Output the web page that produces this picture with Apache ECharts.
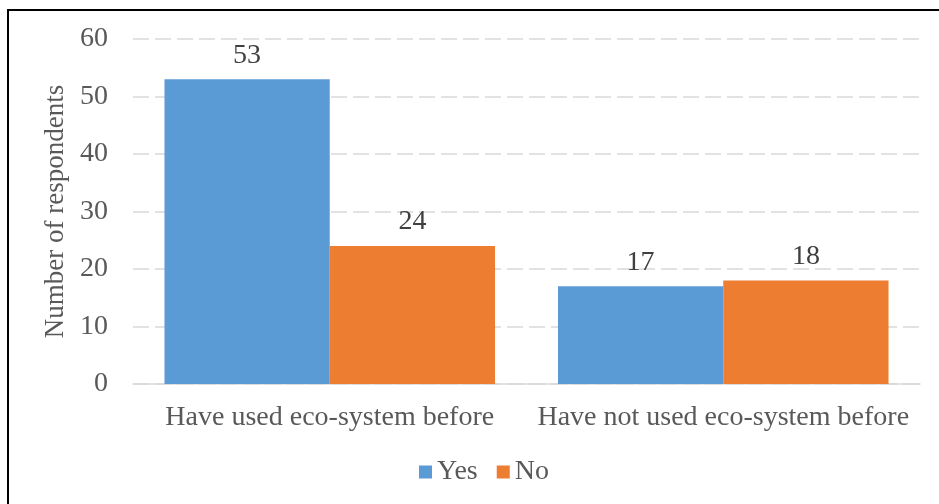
<!DOCTYPE html>
<html><head><meta charset="utf-8">
<script src="https://cdn.jsdelivr.net/npm/echarts@6/dist/echarts.min.js"></script>
<style>
html,body{margin:0;padding:0;background:#fff;overflow:hidden;}
#frame{position:absolute;left:7px;top:9px;width:960px;height:520px;border:2px solid #000;box-sizing:border-box;}
#c{position:absolute;left:0;top:0;width:939px;height:504px;}
</style></head>
<body><div id="frame"></div><div id="c"></div>
<script>
const categories = ["Have used eco-system before", "Have not used eco-system before"];
const yesValues = [53, 17];
const noValues = [24, 18];
const seriesNames = ["Yes", "No"];

const font = "'Liberation Serif', 'Times New Roman', serif";
const fs = 28;
const chart = echarts.init(document.getElementById('c'), null, {renderer:'canvas'});
const labelOpt = {show:true, position:'top', distance:10, fontFamily:font, fontSize:fs, color:'#404040'};
chart.setOption({
  animation:false,
  textStyle:{fontFamily:font},
  grid:{left:133, right:19, top:39, bottom:120},
  legend:{bottom:13, left:414, itemWidth:13, itemHeight:13, itemGap:19, icon:'rect',
    textStyle:{fontFamily:font, fontSize:fs, color:'#595959'}, data:seriesNames},
  xAxis:{type:'category', data:categories,
    axisLine:{lineStyle:{color:'#d9d9d9', width:1.5}}, axisTick:{show:false},
    axisLabel:{interval:0, fontFamily:font, fontSize:fs, color:'#595959', margin:20}},
  yAxis:{type:'value', min:0, max:60, interval:10,
    name:'Number of respondents', nameLocation:'middle', nameGap:58, nameRotate:90,
    nameTextStyle:{fontFamily:font, fontSize:fs-1, color:'#595959'},
    axisLine:{show:false}, axisTick:{show:false},
    axisLabel:{fontFamily:font, fontSize:fs, color:'#595959', margin:25},
    splitLine:{lineStyle:{color:'#d9d9d9', width:1.5, type:[16,6]}}},
  series:[
    {name:seriesNames[0], type:'bar', data:yesValues, barGap:'0%', barCategoryGap:'16%',
      itemStyle:{color:'#5B9BD5'}, label:labelOpt},
    {name:seriesNames[1], type:'bar', data:noValues,
      itemStyle:{color:'#ED7D31'}, label:labelOpt}
  ]
});
</script></body></html>
